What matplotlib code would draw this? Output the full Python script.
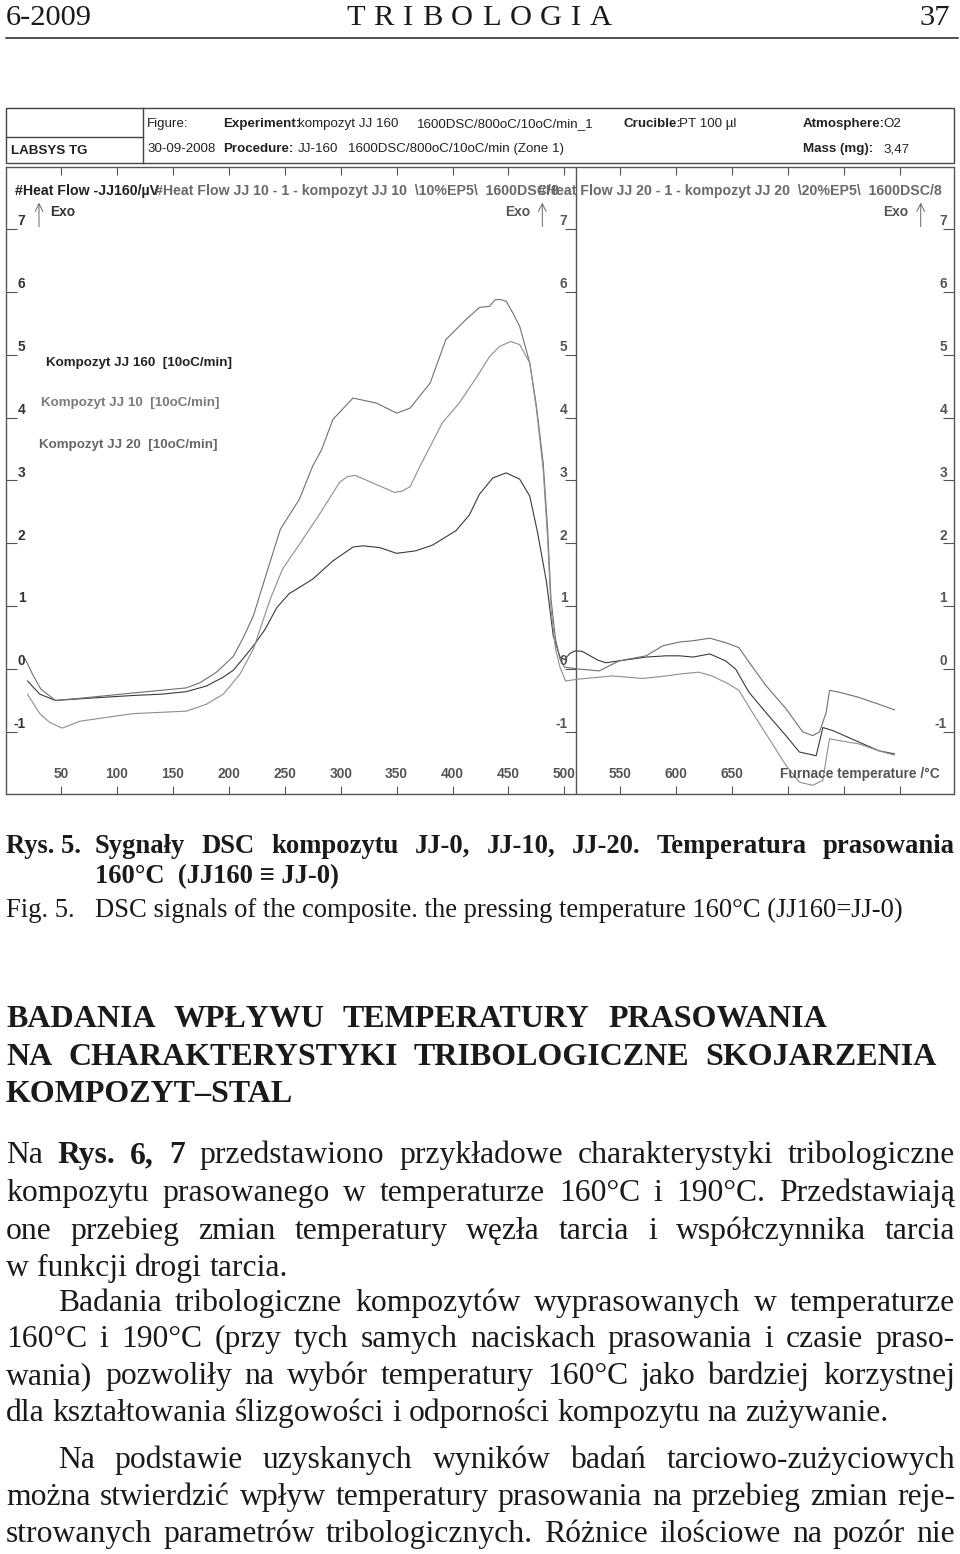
import matplotlib
matplotlib.use("Agg")
import matplotlib.pyplot as plt
from matplotlib.lines import Line2D
from matplotlib.patches import Rectangle
from matplotlib.transforms import blended_transform_factory

# ---- DSC curves (temperature in degC, heat flow in uV) ----
t_jj160 = [20, 31, 45, 70, 115, 140, 162, 180, 195, 204, 212, 222, 232, 243, 254,
           265, 275, 293, 311, 320, 335, 350, 367, 382, 403, 415, 424, 436, 448, 460,
           469, 476, 484, 490, 496, 500, 505, 510, 516, 522, 530, 537, 549, 573, 591,
           603, 615, 630, 644, 653, 665, 680, 698, 710, 725, 728, 731, 740, 763, 781, 795]
hf_jj160 = [-0.19, -0.40, -0.50, -0.47, -0.42, -0.40, -0.36, -0.27, -0.13, -0.02, 0.15,
            0.37, 0.62, 0.98, 1.20, 1.32, 1.43, 1.72, 1.94, 1.96, 1.93, 1.84, 1.88, 1.97,
            2.20, 2.45, 2.78, 3.04, 3.12, 3.02, 2.75, 2.17, 1.38, 0.53, 0.19, 0.15, 0.25,
            0.29, 0.28, 0.22, 0.14, 0.10, 0.13, 0.19, 0.21, 0.21, 0.19, 0.24, 0.13, 0.00,
            -0.37, -0.69, -1.06, -1.32, -1.38, -1.16, -0.93, -0.98, -1.16, -1.30, -1.35]

t_jj10 = [18, 25, 32, 45, 70, 115, 162, 174, 189, 204, 213, 222, 234, 246, 263, 275,
          283, 293, 311, 332, 350, 362, 380, 394, 412, 424, 433, 438, 442, 448, 454, 460,
          469, 475, 481, 485, 488, 492, 496, 500, 513, 531, 549, 573, 588, 603, 615, 630,
          644, 656, 665, 680, 698, 713, 722, 728, 734, 737, 746, 763, 781, 795]
hf_jj10 = [0.16, -0.10, -0.32, -0.50, -0.46, -0.38, -0.30, -0.22, -0.05, 0.20, 0.50,
           0.85, 1.54, 2.22, 2.70, 3.23, 3.49, 3.97, 4.31, 4.23, 4.07, 4.15, 4.55, 5.24,
           5.56, 5.75, 5.77, 5.87, 5.88, 5.85, 5.66, 5.45, 4.87, 4.18, 3.28, 2.22, 1.11,
           0.48, 0.16, 0.03, 0.00, -0.03, 0.13, 0.21, 0.37, 0.43, 0.45, 0.49, 0.42, 0.34,
           0.11, -0.26, -0.63, -1.00, -1.06, -1.00, -0.69, -0.34, -0.37, -0.45, -0.56, -0.65]

t_jj20 = [20, 31, 40, 51, 67, 114, 162, 180, 195, 210, 222, 237, 248, 263, 281, 299,
          306, 313, 326, 348, 355, 362, 371, 391, 406, 418, 424, 433, 442, 452, 460, 469,
          475, 481, 485, 488, 492, 496, 501, 513, 543, 570, 591, 603, 620, 632, 647, 656,
          668, 683, 698, 710, 722, 731, 734, 737, 746, 763, 781, 795]
hf_jj20 = [-0.40, -0.71, -0.85, -0.94, -0.83, -0.71, -0.67, -0.56, -0.40, -0.08, 0.32,
           1.11, 1.59, 1.98, 2.46, 2.97, 3.06, 3.08, 2.98, 2.81, 2.83, 2.90, 3.23, 3.92,
           4.23, 4.55, 4.71, 4.97, 5.13, 5.21, 5.16, 4.87, 4.13, 3.17, 2.06, 0.95, 0.32,
           0.03, -0.19, -0.16, -0.11, -0.15, -0.11, -0.08, -0.05, -0.11, -0.24, -0.34,
           -0.69, -1.11, -1.53, -1.80, -1.85, -1.77, -1.43, -1.11, -1.14, -1.19, -1.30, -1.37]

xticks = [50, 100, 150, 200, 250, 300, 350, 400, 450, 500, 550, 600, 650, 700, 750, 800]
xtick_labels = ["50", "100", "150", "200", "250", "300", "350", "400", "450", "500",
                "550", "600", "650", "", "", ""]
yticks = [-1, 0, 1, 2, 3, 4, 5, 6, 7]

series_labels = ["Kompozyt JJ 160  [10oC/min]", "Kompozyt JJ 10  [10oC/min]",
                 "Kompozyt JJ 20  [10oC/min]"]
series_colors = ["#3a3a3a", "#707070", "#8e8e8e"]

# ---- page setup -------------------------------------------------------------
W, H = 960, 1554
fig = plt.figure(figsize=(W / 100, H / 100), dpi=100)
renderer = fig.canvas.get_renderer()

SANS = ["Liberation Sans", "DejaVu Sans"]
SERIF = ["Liberation Serif", "DejaVu Serif"]
INK = "#1a1a1a"


def fx(x):
    return x / W


def fy(y):
    return 1 - y / H


def put(x, y, s, size, weight="normal", family=SERIF, color=INK, ha="left"):
    return fig.text(fx(x), fy(y), s, fontsize=size, fontweight=weight,
                    family=family, color=color, ha=ha, va="baseline")


def width(s, size, weight="normal", family=SERIF):
    t = fig.text(0, 0, s, fontsize=size, fontweight=weight, family=family)
    w = t.get_window_extent(renderer).width
    t.remove()
    return w


def fit(s, target, weight="normal"):
    return 20 * target / width(s, 20, weight)


def words(s, weight="normal"):
    return [(w, weight) for w in s.split()]


def line(ws, y, size, x0=6, x1=955, justify=True):
    sizes = [width(w, size, wt) for w, wt in ws]
    if justify and len(ws) > 1:
        gap = (x1 - x0 - sum(sizes)) / (len(ws) - 1)
    else:
        gap = width("a a", size) - width("aa", size)
    x = x0
    for (w, wt), wd in zip(ws, sizes):
        put(x, y, w, size, wt)
        x += wd + gap


# ---- running head -----------------------------------------------------------
head = fit("6-2009", 86)
put(6, 25, "6-2009", head)
line([(c, "normal") for c in "TRIBOLOGIA"], 25, head, 346, 612)
put(950, 25, "37", head, ha="right")
fig.add_artist(Line2D([fx(6), fx(958)], [fy(38), fy(38)], color="#222", lw=1.1))

# ---- instrument header box --------------------------------------------------
BOX = "#444"
fig.add_artist(Rectangle((fx(6), fy(162.7)), (954 - 6) / W, (162.7 - 108.3) / H,
                         transform=fig.transFigure, fill=False, ec=BOX, lw=1.0))
fig.add_artist(Line2D([fx(142.7)] * 2, [fy(108.3), fy(162.7)], color=BOX, lw=1.0))
fig.add_artist(Line2D([fx(6), fx(142.7)], [fy(136.7)] * 2, color=BOX, lw=1.0))

BS = 9.6
hdr = [
    (147, 127, "Figure:", "normal"), (223, 127, "Experiment:", "bold"),
    (298, 127, "kompozyt JJ 160", "normal"), (417, 127, "1600DSC/800oC/10oC/min_1", "normal"),
    (623, 127, "Crucible:", "bold"), (679, 127, "PT 100 µl", "normal"),
    (803, 127, "Atmosphere:", "bold"), (883, 127, "O2", "normal"),
    (147, 152, "30-09-2008", "normal"), (223, 152, "Procedure:", "bold"),
    (298, 152, "JJ-160", "normal"), (348, 152, "1600DSC/800oC/10oC/min (Zone 1)", "normal"),
    (803, 152, "Mass (mg):", "bold"), (883, 152, "3,47", "normal"),
    (11, 154, "LABSYS TG", "bold"),
]
for x, y, s, wt in hdr:
    put(x, y, s, BS, wt, family=SANS, color="#222")

# ---- DSC plot ---------------------------------------------------------------
CS = 9.9
FL, FR, FT, FB = 6, 953.5, 166.7, 793.5
FRAME = "#555"
ax = fig.add_axes([fx(FL), fy(FB), (FR - FL) / W, (FB - FT) / H])
ax.set_xlim(0.8, 847.8)
ax.set_ylim(-1.98, 7.99)
for sp in ax.spines.values():
    sp.set_color(FRAME)
    sp.set_linewidth(1.0)

ax.set_xticks(xticks)
ax.set_xticklabels([])
ax.set_yticks(yticks)
ax.set_yticklabels([])
ax.tick_params(axis="x", direction="in", length=6, width=0.8, color=FRAME,
               top=True, bottom=True)
ax.tick_params(axis="y", direction="in", length=7.7, width=0.8, color=FRAME,
               left=True, right=True)

# middle axis of the three-panel layout
t_mid = 510.1
ax.axvline(t_mid, color=FRAME, lw=1.0)
ax.hlines(yticks, t_mid - 9.5, t_mid, color=FRAME, lw=0.8)

for t, hf, c in zip([t_jj160, t_jj10, t_jj20], [hf_jj160, hf_jj10, hf_jj20], series_colors):
    ax.plot(t, hf, color=c, lw=0.8)


def afx(x):
    return (x - FL) / (FR - FL)


xlab_tr = blended_transform_factory(ax.transData, ax.transAxes)
for t, lab in zip(xticks, xtick_labels):
    ax.text(t, (FB - 778) / (FB - FT), lab, transform=xlab_tr, ha="center",
            va="baseline", fontsize=CS, fontweight="bold", family=SANS, color="#555")

ylab_tr = blended_transform_factory(ax.transAxes, ax.transData)
for v in yticks:
    for xr, col in [(25.5, "#333"), (567.5, "#555"), (947, "#555")]:
        ax.text(afx(xr), v + 0.06, str(v), transform=ylab_tr, ha="right",
                va="baseline", fontsize=CS, fontweight="bold", family=SANS, color=col)

put(780, 778, "Furnace temperature /°C", CS, "bold", family=SANS, color="#555")

# signal titles along the top of the frame
TS = 10.2
put(15, 195, "#Heat Flow -JJ160/µV", TS, "bold", family=SANS, color="#222")
put(155, 195, "#Heat Flow JJ 10 - 1 - kompozyt JJ 10  \\10%EP5\\  1600DSC/8", TS,
    "bold", family=SANS, color="#6a6a6a")
put(538, 195, "#Heat Flow JJ 20 - 1 - kompozyt JJ 20  \\20%EP5\\  1600DSC/8", TS,
    "bold", family=SANS, color="#6a6a6a")

# exo markers
for xa, xt, col in [(39, 50, "#333"), (542.3, 505, "#555"), (920.7, 883, "#555")]:
    ax.annotate("", xy=(xa, H - 202.7), xytext=(xa, H - 226.7), xycoords="figure pixels",
                textcoords="figure pixels",
                arrowprops=dict(arrowstyle="->,head_length=0.55,head_width=0.28",
                                color="#666", lw=0.7, shrinkA=0, shrinkB=0))
    put(xt, 216, "Exo", CS, "bold", family=SANS, color=col)

# series names
for (x, y), lab, col in zip([(46, 366), (41, 406), (39, 448)], series_labels,
                            ["#222", "#7a7a7a", "#666"]):
    put(x, y, lab, 9.6, "bold", family=SANS, color=col)

# ---- caption ----------------------------------------------------------------
cap = fit("DSC signals of the composite. the pressing temperature 160°C (JJ160=JJ-0)", 811)
put(6, 853, "Rys. 5.", cap, "bold")
line(words("Sygnały DSC kompozytu JJ-0, JJ-10, JJ-20. Temperatura prasowania", "bold"),
     853, cap, 95, 955)
put(95, 883, "160°C  (JJ160 ≡ JJ-0)", cap, "bold")
put(6, 917, "Fig. 5.", cap)
put(95, 917, "DSC signals of the composite. the pressing temperature 160°C (JJ160=JJ-0)", cap)

# ---- section heading --------------------------------------------------------
hd = fit("KOMPOZYT–STAL", 287, "bold")
line(words("BADANIA WPŁYWU TEMPERATURY PRASOWANIA", "bold"), 1027, hd, 6, 827)
line(words("NA CHARAKTERYSTYKI TRIBOLOGICZNE SKOJARZENIA", "bold"), 1065, hd, 6, 937)
put(6, 1102, "KOMPOZYT–STAL", hd, "bold")

# ---- body text --------------------------------------------------------------
body = fit("dla kształtowania ślizgowości i odporności kompozytu na zużywanie.", 882)

line(words("Na") + words("Rys. 6, 7", "bold")
     + words("przedstawiono przykładowe charakterystyki tribologiczne"), 1163, body)
line(words("kompozytu prasowanego w temperaturze 160°C i 190°C. Przedstawiają"), 1201, body)
line(words("one przebieg zmian temperatury węzła tarcia i współczynnika tarcia"), 1239, body)
line(words("w funkcji drogi tarcia."), 1276, body, justify=False)

line(words("Badania tribologiczne kompozytów wyprasowanych w temperaturze"), 1311, body, 58)
line(words("160°C i 190°C (przy tych samych naciskach prasowania i czasie praso-"), 1347, body)
line(words("wania) pozwoliły na wybór temperatury 160°C jako bardziej korzystnej"), 1384, body)
line(words("dla kształtowania ślizgowości i odporności kompozytu na zużywanie."), 1421, body,
     justify=False)

line(words("Na podstawie uzyskanych wyników badań tarciowo-zużyciowych"), 1468, body, 58)
line(words("można stwierdzić wpływ temperatury prasowania na przebieg zmian reje-"), 1505, body)
line(words("strowanych parametrów tribologicznych. Różnice ilościowe na pozór nie"), 1542, body)

fig.savefig("out.png", dpi=100)
